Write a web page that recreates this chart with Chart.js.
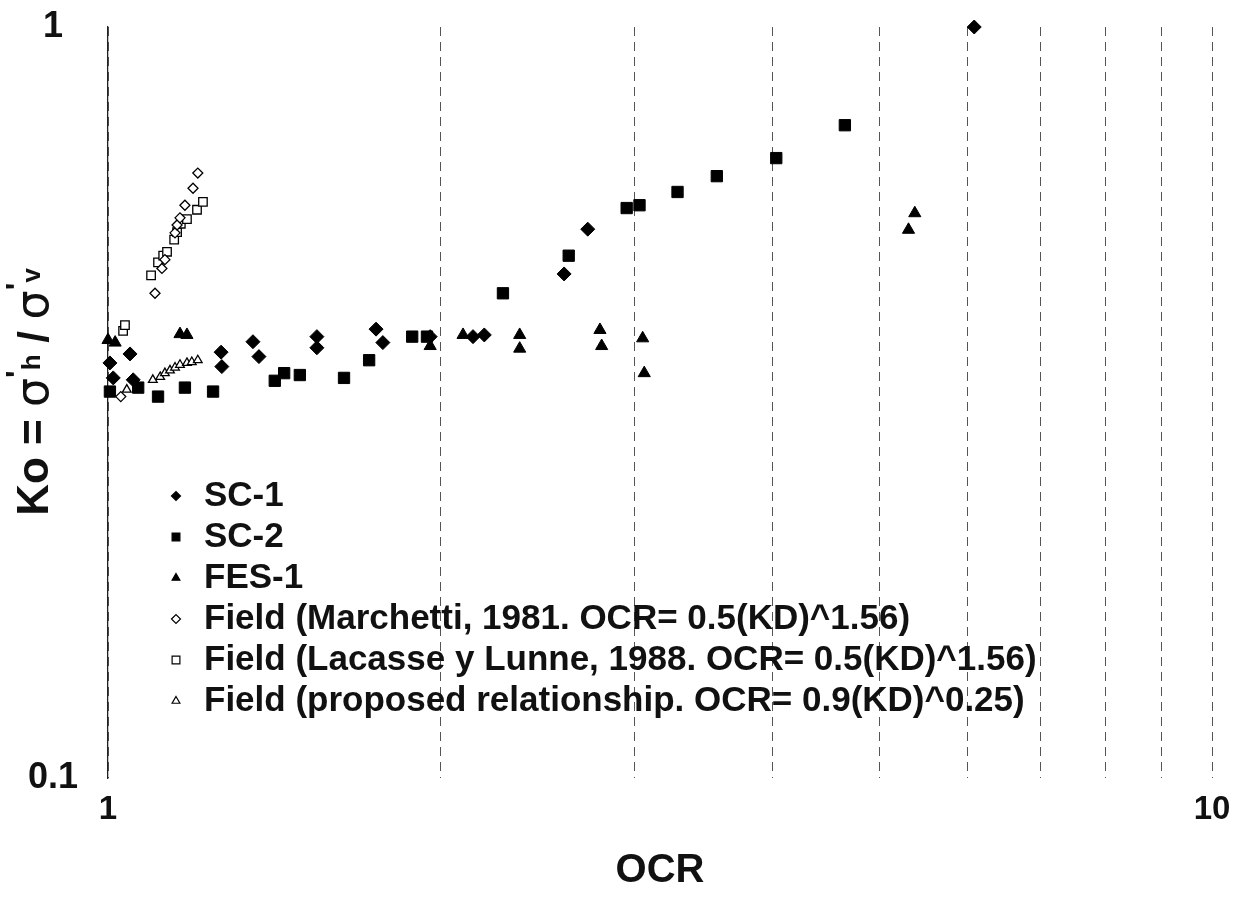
<!DOCTYPE html>
<html>
<head>
    <title>Ko vs OCR</title>
    <script src="https://cdn.jsdelivr.net/npm/chart.js"></script>
    <style>
        html, body { margin: 0; padding: 0; background: #fff; }
        #wrap { width: 1245px; height: 904px; position: relative; }
    </style>
</head>
<body>
    <div id="wrap">
        <canvas id="koChart" width="1245" height="904"></canvas>
    </div>

    <script>
        // valeurs (OCR, Ko)
        const sc1X = [1.004, 1.011, 1.047, 1.054, 1.266, 1.268, 1.353, 1.370, 1.546, 1.546, 1.749, 1.774, 1.958, 2.141, 2.192, 2.589, 2.72, 6.09];
        const sc1Y = [0.357, 0.341, 0.367, 0.339, 0.369, 0.353, 0.381, 0.364, 0.387, 0.374, 0.396, 0.380, 0.387, 0.387, 0.389, 0.469, 0.538, 1.0];

        const sc2X = [1.004, 1.065, 1.110, 1.174, 1.245, 1.416, 1.444, 1.492, 1.636, 1.724, 1.886, 1.945, 2.279, 2.614, 2.95, 3.03, 3.28, 3.56, 4.03, 4.65];
        const sc2Y = [0.327, 0.331, 0.322, 0.331, 0.327, 0.338, 0.346, 0.344, 0.341, 0.360, 0.387, 0.387, 0.442, 0.496, 0.574, 0.579, 0.603, 0.633, 0.669, 0.740];

        const fesX = [1.0, 1.015, 1.162, 1.179, 1.958, 2.097, 2.36, 2.36, 2.79, 2.80, 3.05, 3.06, 5.31, 5.38];
        const fesY = [0.383, 0.380, 0.390, 0.389, 0.376, 0.389, 0.389, 0.373, 0.395, 0.376, 0.385, 0.346, 0.537, 0.565];

        const marX = [1.027, 1.103, 1.119, 1.126, 1.150, 1.155, 1.162, 1.174, 1.194, 1.206];
        const marY = [0.322, 0.442, 0.477, 0.490, 0.532, 0.545, 0.557, 0.579, 0.610, 0.639];

        const lacX = [1.032, 1.036, 1.094, 1.110, 1.122, 1.131, 1.148, 1.155, 1.164, 1.179, 1.204, 1.219];
        const lacY = [0.394, 0.401, 0.467, 0.486, 0.496, 0.502, 0.521, 0.533, 0.547, 0.555, 0.571, 0.585];

        const proX = [1.040, 1.098, 1.115, 1.126, 1.138, 1.150, 1.162, 1.179, 1.191, 1.206];
        const proY = [0.329, 0.339, 0.342, 0.346, 0.349, 0.352, 0.355, 0.357, 0.358, 0.360];

        const seriesNames = [
            'SC-1',
            'SC-2',
            'FES-1',
            'Field (Marchetti, 1981. OCR= 0.5(KD)^1.56)',
            'Field (Lacasse y Lunne, 1988. OCR= 0.5(KD)^1.56)',
            'Field (proposed relationship. OCR= 0.9(KD)^0.25)'
        ];
        const xGridValues = [1, 2, 3, 4, 5, 6, 7, 8, 9, 10];
        const xTickLabels = [1, 10];
        const yTickLabels = [0.1, 1];

        function pts(xs, ys) {
            return xs.map((x, i) => ({ x: x, y: ys[i] }));
        }

        function serie(name, xs, ys, style, radius, hollow) {
            return {
                label: name,
                data: pts(xs, ys),
                pointStyle: style,
                pointRadius: radius,
                pointBackgroundColor: hollow ? '#fff' : '#000',
                pointBorderColor: '#000',
                pointBorderWidth: hollow ? 1.3 : 1,
                showLine: false,
                clip: false
            };
        }

        // légende dessinée dans la zone du graphique
        const legendInside = {
            id: 'legendInside',
            afterDraw(chart) {
                const ctx = chart.ctx;
                ctx.save();
                chart.data.datasets.forEach((ds, i) => {
                    const y = 496 + i * 41;
                    ctx.fillStyle = ds.pointBackgroundColor;
                    ctx.strokeStyle = '#000';
                    ctx.lineWidth = 1.2;
                    Chart.helpers.drawPoint(ctx, { pointStyle: ds.pointStyle, radius: ds.pointStyle === 'rect' ? 5.5 : 4.5, rotation: 0, borderWidth: 1.2 }, 176, y);
                    ctx.fillStyle = '#111';
                    ctx.font = 'bold 35px "Liberation Sans", Arial, sans-serif';
                    ctx.textBaseline = 'middle';
                    ctx.textAlign = 'left';
                    ctx.fillText(ds.label, 204, y);
                });
                ctx.restore();
            }
        };

        // titres des axes (avec indices et primes)
        const axisTitles = {
            id: 'axisTitles',
            afterDraw(chart) {
                const ctx = chart.ctx;
                ctx.save();
                ctx.fillStyle = '#111';
                ctx.textBaseline = 'alphabetic';
                ctx.textAlign = 'center';
                ctx.font = 'bold 40px "Liberation Sans", Arial, sans-serif';
                ctx.fillText('OCR', 660, 882);

                const parts = [
                    { t: 'Ko = ', f: 'bold 44px "Liberation Sans", Arial, sans-serif', dy: 0 },
                    { t: 'σ', f: '46px "DejaVu Sans", sans-serif', dy: 0 },
                    { t: '\'', f: 'bold 32px "Liberation Sans", Arial, sans-serif', dy: -20 },
                    { t: 'h', f: 'bold 26px "Liberation Sans", Arial, sans-serif', dy: -8 },
                    { t: ' / ', f: 'bold 42px "Liberation Sans", Arial, sans-serif', dy: 0 },
                    { t: 'σ', f: '46px "DejaVu Sans", sans-serif', dy: 0 },
                    { t: '\'', f: 'bold 32px "Liberation Sans", Arial, sans-serif', dy: -20 },
                    { t: 'v', f: 'bold 26px "Liberation Sans", Arial, sans-serif', dy: -8 }
                ];
                let total = 0;
                parts.forEach(p => { ctx.font = p.f; p.w = ctx.measureText(p.t).width; total += p.w; });
                ctx.translate(48, 392);
                ctx.rotate(-Math.PI / 2);
                ctx.textAlign = 'left';
                let x = -total / 2;
                parts.forEach(p => {
                    ctx.font = p.f;
                    ctx.fillText(p.t, x, p.dy);
                    x += p.w;
                });
                ctx.restore();
            }
        };

        function isTick(v, list) {
            return list.some(t => Math.abs(v - t) < 1e-9);
        }

        const ctx = document.getElementById('koChart').getContext('2d');
        new Chart(ctx, {
            type: 'scatter',
            data: {
                datasets: [
                    serie(seriesNames[0], sc1X, sc1Y, 'rectRot', 7, false),
                    serie(seriesNames[1], sc2X, sc2Y, 'rect', 8, false),
                    serie(seriesNames[2], fesX, fesY, 'triangle', 7, false),
                    serie(seriesNames[3], marX, marY, 'rectRot', 5, true),
                    serie(seriesNames[4], lacX, lacY, 'rect', 6, true),
                    serie(seriesNames[5], proX, proY, 'triangle', 5, true)
                ]
            },
            options: {
                responsive: false,
                animation: false,
                layout: { padding: { top: 27, right: 33, left: 0, bottom: 0 } },
                plugins: {
                    legend: { display: false },
                    tooltip: { enabled: false }
                },
                scales: {
                    x: {
                        type: 'logarithmic',
                        min: 1,
                        max: 10,
                        afterFit: s => { s.height = 126; s.paddingLeft = 0; s.paddingRight = 0; },
                        afterBuildTicks: s => { s.ticks = xGridValues.map(v => ({ value: v })); },
                        border: { display: false, dash: [9, 6] },
                        grid: {
                            color: '#555',
                            lineWidth: 1,
                            drawTicks: false
                        },
                        ticks: {
                            autoSkip: false,
                            maxRotation: 0,
                            padding: 12,
                            color: '#111',
                            font: { family: '"Liberation Sans", Arial, sans-serif', size: 33, weight: 'bold' },
                            callback: v => isTick(v, xTickLabels) ? String(v) : ''
                        }
                    },
                    y: {
                        type: 'logarithmic',
                        min: 0.1,
                        max: 1,
                        afterFit: s => { s.width = 108; s.paddingTop = 0; s.paddingBottom = 0; },
                        afterBuildTicks: s => { s.ticks = yTickLabels.map(v => ({ value: v })); },
                        border: { display: true, color: '#222', width: 1.3 },
                        grid: { display: false, drawTicks: false },
                        ticks: {
                            autoSkip: false,
                            padding: 30,
                            crossAlign: 'center',
                            color: '#111',
                            font: { family: '"Liberation Sans", Arial, sans-serif', size: 36, weight: 'bold' },
                            callback: v => isTick(v, yTickLabels) ? String(v) : ''
                        }
                    }
                }
            },
            plugins: [legendInside, axisTitles]
        });
    </script>
</body>
</html>
